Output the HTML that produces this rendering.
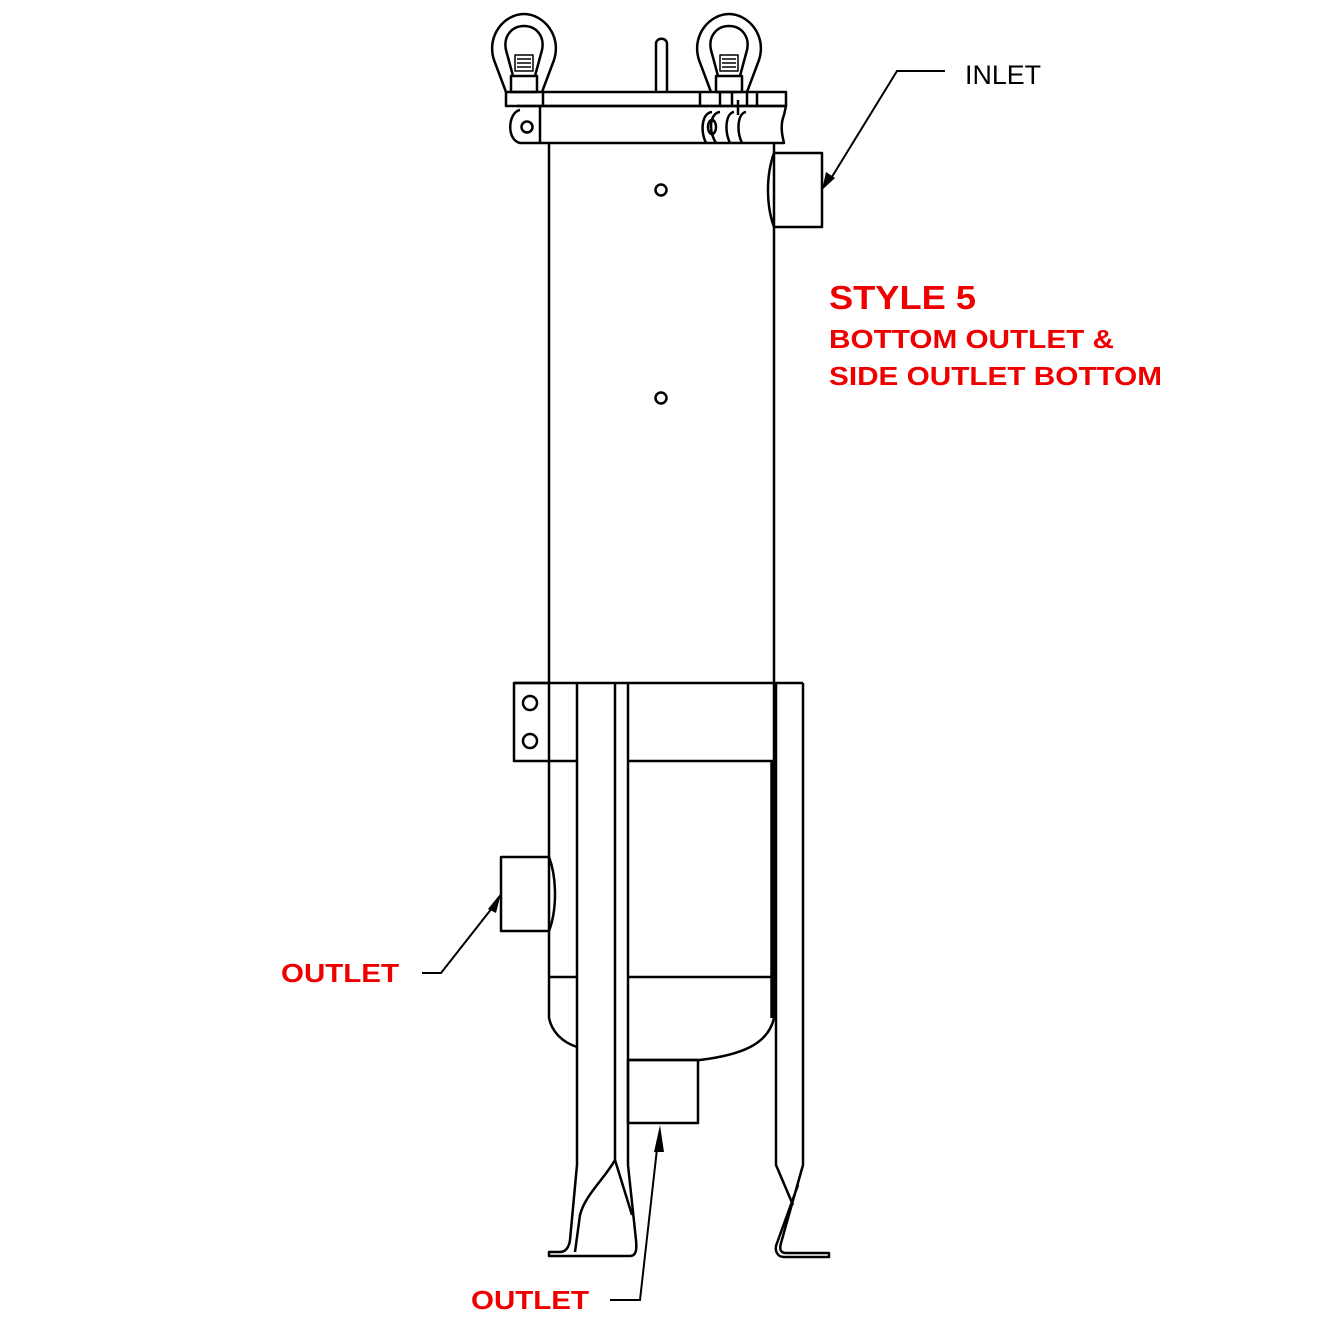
<!DOCTYPE html>
<html><head><style>body{margin:0;background:#fff}svg{display:block}</style></head><body>
<svg width="1333" height="1333" viewBox="0 0 1333 1333" xmlns="http://www.w3.org/2000/svg">
<g fill="none" stroke="#000" stroke-width="2.5" stroke-linejoin="round">
<path d="M506 92 L494 60 C486 35 505 14 524 14 C543 14 562 35 554 60 L542 92"/>
<path d="M513 76 L506 50 C503 36 512 26 524 26 C536 26 545 36 542 50 L535 76"/>
<rect x="511" y="76" width="26" height="16"/>
<rect x="515" y="55" width="18" height="16" stroke-width="1.5"/>
<path d="M517 59h14M517 63h14M517 67h14" stroke-width="1.5"/>
<path d="M711 92 L699 60 C691 35 710 14 729 14 C748 14 767 35 759 60 L747 92"/>
<path d="M718 76 L711 50 C708 36 717 26 729 26 C741 26 750 36 747 50 L740 76"/>
<rect x="716" y="76" width="26" height="16"/>
<rect x="720" y="55" width="18" height="16" stroke-width="1.5"/>
<path d="M722 59h14M722 63h14M722 67h14" stroke-width="1.5"/>
<path d="M656 92 V44 C656 37 667 37 667 44 V92"/>
<rect x="506" y="92" width="280" height="14"/>
<path d="M543 92v14M700 92v14M720 92v14M732 92v14M747 92v14M757 92v14"/>
<path d="M517 106 H786 L784 115 C780 125 782 135 784 143 H548 M540 106 V143"/>
<path d="M520 110 C508 112 506 140 520 143 L548 143"/>
<circle cx="527" cy="127" r="5.5"/>
<path d="M706 143 C700 130 702 113 712 112 M716 143 C708 130 710 113 720 112 M730 143 C724 130 726 113 734 112 M742 143 C736 130 738 113 746 112"/>
<ellipse cx="712" cy="127" rx="4" ry="7"/>
<path d="M738 100 V115" />
<path d="M549 143 V683 M774 143 V683"/>
<circle cx="661" cy="190" r="5.5"/>
<circle cx="661" cy="398" r="5.5"/>
<path d="M774 153 H822 V227 H774 C766 205 766 175 774 153 Z"/>
<path d="M514 683 H803"/>
<rect x="514" y="683" width="35" height="78"/>
<circle cx="530" cy="703" r="7"/>
<circle cx="530" cy="741" r="7"/>
<path d="M549 761 H577 M628 761 H774"/>
<path d="M549 761 V1018 C552 1032 562 1042 577 1047"/>
<path d="M549 977 H577 M628 977 H774"/>
<path d="M774 683 V1018 C768 1045 740 1055 700 1060 H628"/>
<path d="M772 761 V1018" stroke-width="3.5"/>
<rect x="628" y="1060" width="70" height="63"/>
<path d="M549 857 H501 V931 H549 C557 910 557 878 549 857 Z"/>
<path d="M577 683 V1165 L570 1240 C569 1248 565 1252 560 1252 H549 V1256 H630 C636 1256 637 1250 636 1240 L628 1165 V683"/>
<path d="M615 683 V1160 C605 1178 585 1195 580 1215 L575 1252"/>
<path d="M615 1160 L632 1215"/>
<path d="M776 683 V1165 L793 1205"/>
<path d="M803 683 V1165 L781 1243 C779 1250 781 1253 786 1253 H829 V1257 H784 C777 1257 774 1250 777 1243 L798 1185"/>
</g>
<g stroke="#000" stroke-width="2" fill="none">
<path d="M945 71 H897 L830 180"/>
<path d="M422 973 H441 L496 903"/>
<path d="M610 1300 H640 L658 1140"/>
</g>
<g fill="#000">
<polygon points="822,190 826,172 835,178"/>
<polygon points="501,893 488,909 496,913"/>
<polygon points="660,1125 654,1152 664,1152"/>
</g>
<g font-family="Liberation Sans, sans-serif">
<text x="965" y="84" font-size="27" fill="#000" textLength="76" lengthAdjust="spacingAndGlyphs">INLET</text>
<g fill="#e00" font-weight="bold">
<text x="829" y="309" font-size="33" textLength="147" lengthAdjust="spacingAndGlyphs">STYLE 5</text>
<text x="829" y="348" font-size="26" textLength="285" lengthAdjust="spacingAndGlyphs">BOTTOM OUTLET &amp;</text>
<text x="829" y="385" font-size="26" textLength="333" lengthAdjust="spacingAndGlyphs">SIDE OUTLET BOTTOM</text>
<text x="281" y="982" font-size="26" textLength="118" lengthAdjust="spacingAndGlyphs">OUTLET</text>
<text x="471" y="1309" font-size="26" textLength="118" lengthAdjust="spacingAndGlyphs">OUTLET</text>
</g>
</g>
</svg>
</body></html>
